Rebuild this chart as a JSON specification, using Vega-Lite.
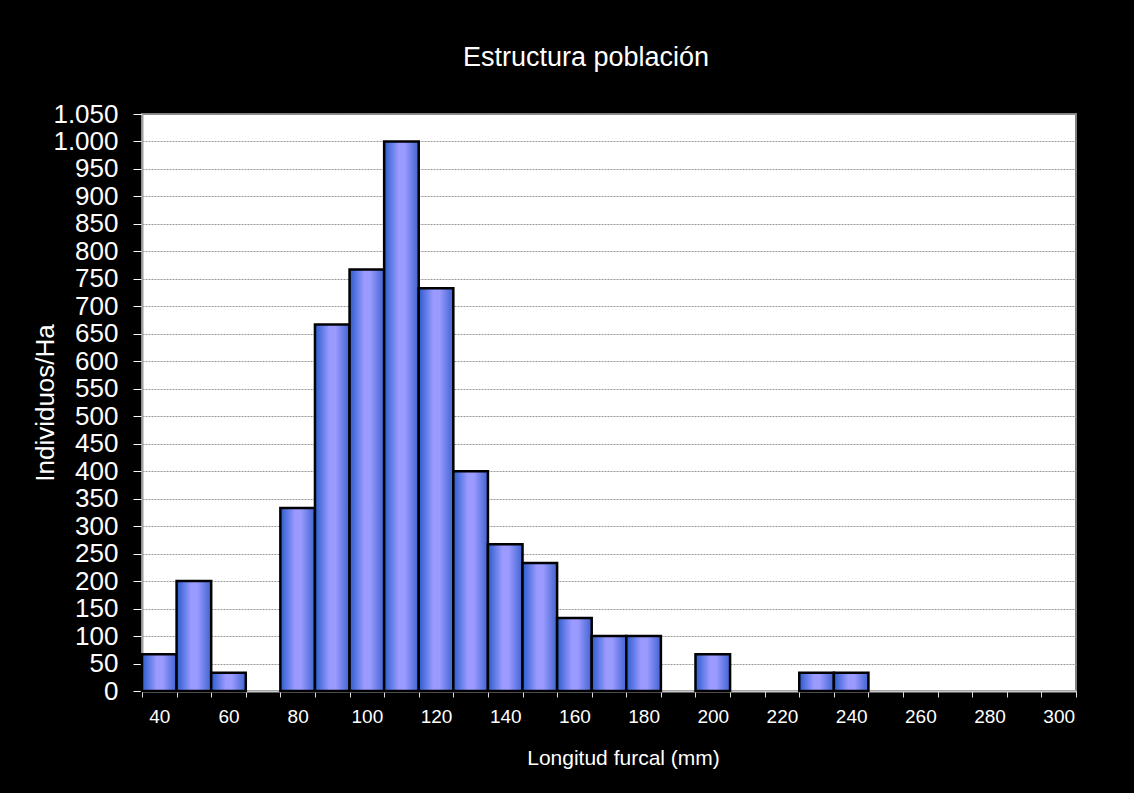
{
  "$schema": "https://vega.github.io/schema/vega-lite/v6.json",
  "width": 934,
  "height": 577,
  "autosize": {"type": "none"},
  "padding": {"left": 142, "top": 114, "right": 58, "bottom": 102},
  "background": "#000000",
  "title": {
    "text": "Estructura población",
    "color": "#ffffff",
    "font": "Liberation Sans",
    "fontSize": 27,
    "fontWeight": "normal",
    "anchor": "middle",
    "dx": -23,
    "offset": 29
  },
  "data": {
    "values": [
      {"longitud": 40, "lo": 35, "hi": 45, "n": 67},
      {"longitud": 50, "lo": 45, "hi": 55, "n": 200},
      {"longitud": 60, "lo": 55, "hi": 65, "n": 33},
      {"longitud": 70, "lo": 65, "hi": 75, "n": 0},
      {"longitud": 80, "lo": 75, "hi": 85, "n": 333},
      {"longitud": 90, "lo": 85, "hi": 95, "n": 667},
      {"longitud": 100, "lo": 95, "hi": 105, "n": 767},
      {"longitud": 110, "lo": 105, "hi": 115, "n": 1000},
      {"longitud": 120, "lo": 115, "hi": 125, "n": 733},
      {"longitud": 130, "lo": 125, "hi": 135, "n": 400},
      {"longitud": 140, "lo": 135, "hi": 145, "n": 267},
      {"longitud": 150, "lo": 145, "hi": 155, "n": 233},
      {"longitud": 160, "lo": 155, "hi": 165, "n": 133},
      {"longitud": 170, "lo": 165, "hi": 175, "n": 100},
      {"longitud": 180, "lo": 175, "hi": 185, "n": 100},
      {"longitud": 190, "lo": 185, "hi": 195, "n": 0},
      {"longitud": 200, "lo": 195, "hi": 205, "n": 67},
      {"longitud": 210, "lo": 205, "hi": 215, "n": 0},
      {"longitud": 220, "lo": 215, "hi": 225, "n": 0},
      {"longitud": 230, "lo": 225, "hi": 235, "n": 33},
      {"longitud": 240, "lo": 235, "hi": 245, "n": 33},
      {"longitud": 250, "lo": 245, "hi": 255, "n": 0},
      {"longitud": 260, "lo": 255, "hi": 265, "n": 0},
      {"longitud": 270, "lo": 265, "hi": 275, "n": 0},
      {"longitud": 280, "lo": 275, "hi": 285, "n": 0},
      {"longitud": 290, "lo": 285, "hi": 295, "n": 0},
      {"longitud": 300, "lo": 295, "hi": 305, "n": 0}
    ]
  },
  "transform": [{"filter": "datum.n > 0"}],
  "mark": {
    "type": "bar",
    "stroke": "#000000",
    "strokeWidth": 2.5,
    "color": {
      "gradient": "linear",
      "x1": 0, "x2": 1, "y1": 0, "y2": 0,
      "stops": [
        {"offset": 0, "color": "#2a5ccc"},
        {"offset": 0.42, "color": "#9a9aff"},
        {"offset": 0.6, "color": "#9a9aff"},
        {"offset": 1, "color": "#3f63d0"}
      ]
    }
  },
  "encoding": {
    "x": {
      "field": "lo",
      "type": "quantitative",
      "scale": {"domain": [35, 305], "nice": false, "zero": false},
      "axis": {
        "title": "Longitud furcal (mm)",
        "titleColor": "#ffffff",
        "titleFont": "Liberation Sans",
        "titleFontSize": 21,
        "titleFontWeight": "normal",
        "titlePadding": 21,
        "titleX": 481,
        "values": [35, 45, 55, 65, 75, 85, 95, 105, 115, 125, 135, 145, 155, 165, 175, 185, 195, 205, 215, 225, 235, 245, 255, 265, 275, 285, 295, 305],
        "labelExpr": "(datum.value - 35) % 20 == 0 ? '' + (datum.value + 5) : ''",
        "labelOffset": 17.3,
        "labelOverlap": false,
        "labelColor": "#ffffff",
        "labelFont": "Liberation Sans",
        "labelFontSize": 19,
        "labelPadding": 10,
        "labelFlush": false,
        "tickColor": "#dddddd",
        "tickSize": 6,
        "domainColor": "#c8c8c8",
        "domainWidth": 2,
        "grid": false
      }
    },
    "x2": {"field": "hi"},
    "y": {
      "field": "n",
      "type": "quantitative",
      "scale": {"domain": [0, 1050], "nice": false},
      "axis": {
        "title": "Individuos/Ha",
        "titleColor": "#ffffff",
        "titleFont": "Liberation Sans",
        "titleFontSize": 26,
        "titleFontWeight": "normal",
        "titleX": -97,
        "titleBaseline": "middle",
        "values": [0, 50, 100, 150, 200, 250, 300, 350, 400, 450, 500, 550, 600, 650, 700, 750, 800, 850, 900, 950, 1000, 1050],
        "labelExpr": "replace(format(datum.value, ','), ',', '.')",
        "labelColor": "#ffffff",
        "labelFont": "Liberation Sans",
        "labelFontSize": 26,
        "labelPadding": 15,
        "labelOverlap": false,
        "labelFlush": false,
        "tickColor": "#ffffff",
        "tickSize": 9,
        "domainColor": "#a0a0a0",
        "domainWidth": 2,
        "grid": true,
        "gridColor": "#999999",
        "gridDash": [2, 1],
        "gridWidth": 1
      }
    },
    "y2": {"datum": 0}
  },
  "config": {
    "view": {"fill": "#ffffff", "stroke": "#808080", "strokeWidth": 2}
  }
}
